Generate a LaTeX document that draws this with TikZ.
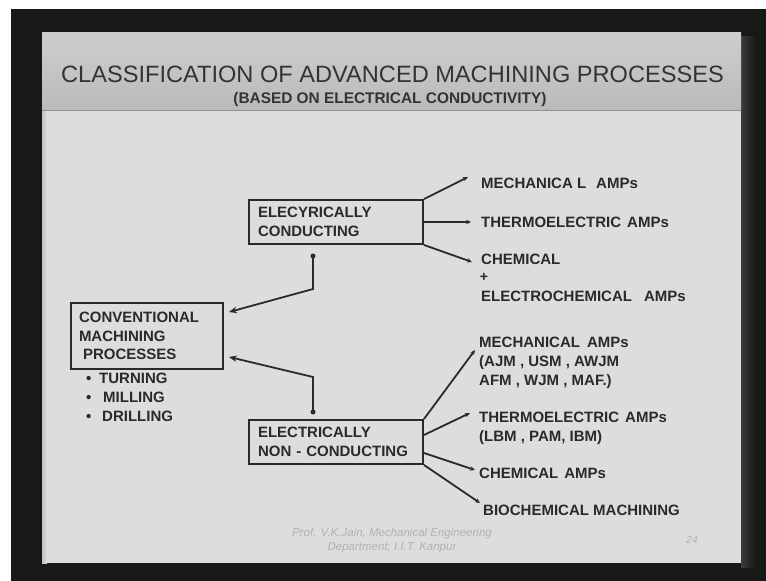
\documentclass[tikz,border=0pt]{standalone}
\usepackage{fontspec}
\setmainfont{Liberation Sans}
\usetikzlibrary{arrows.meta}
\definecolor{ink}{HTML}{2A2A2A}
\definecolor{frame}{HTML}{171917}
\definecolor{shadowc}{HTML}{3A3C3A}
\definecolor{slidebg}{HTML}{DCDEDC}
\definecolor{hdtop}{HTML}{CDCFCD}
\definecolor{hdbot}{HTML}{B9BBB9}
\definecolor{hdline}{HTML}{8E908E}
\definecolor{titleink}{HTML}{333333}
\definecolor{foot}{HTML}{B0B2B0}
\tikzset{
  txt/.style={font=\fontsize{15}{19}\selectfont\bfseries, text=ink, inner sep=0pt, anchor=base west},
  box/.style={draw=ink, line width=1.9pt, align=left, text=ink, font=\fontsize{15}{19}\selectfont\bfseries},
  con/.style={draw=ink, line width=1.8pt},
  bigtip/.style={-{Stealth[length=8pt,width=6.5pt]}},
  smalltip/.style={-{Stealth[length=5pt,width=4.5pt]}},
  dot/.style={circle, fill=ink, inner sep=0pt, minimum size=5pt},
  foottxt/.style={font=\fontsize{11.5}{14}\selectfont\itshape, text=foot, inner sep=0pt, anchor=base},
}
\begin{document}
\begin{tikzpicture}[x=1pt,y=-1pt]
\useasboundingbox (0,0) rectangle (766,581);
\fill[white] (0,0) rectangle (766,581);
\fill[frame] (11,9) rectangle (766,581);
\shade[left color=shadowc, right color=frame] (741,36) rectangle (755,567);
\fill[slidebg] (42,32) rectangle (741,563);
\shade[left color=black!12!slidebg, right color=slidebg] (42,110) rectangle (47,563);
\shade[top color=hdtop, bottom color=hdbot] (42,32) rectangle (741,110);
\draw[hdline, line width=1pt] (42,110) -- (741,110);

% title
\node[font=\fontsize{23.6}{27}\selectfont, text=titleink, inner sep=0pt, anchor=base] (title) at (392.5,82) {CLASSIFICATION OF ADVANCED MACHINING PROCESSES};
\node[font=\fontsize{15.4}{18}\selectfont\bfseries, text=titleink, inner sep=0pt, anchor=base] (subtitle) at (390,103) {(BASED ON ELECTRICAL CONDUCTIVITY)};

% boxes
\node[box, inner xsep=9pt, text width=156pt, minimum height=44pt] (cond) at (336,222) {ELECYRICALLY\\CONDUCTING};
\node[box, inner xsep=8pt, text width=136pt, minimum height=66pt, font=\fontsize{15}{18.5}\selectfont\bfseries] (conv) at (147,336) {CONVENTIONAL\\MACHINING\\\hspace*{4pt}PROCESSES};
\node[box, inner xsep=9pt, text width=156pt, minimum height=44pt] (ncond) at (336,442) {ELECTRICALLY\\NON - CONDUCTING};

% bullets under conventional
\node[txt] (b1) at (85,383.4) {\makebox[7pt]{•}\hspace{7pt}TURNING};
\node[txt] (b2) at (85,402.4) {\makebox[7pt]{•}\hspace{11pt}MILLING};
\node[txt] (b3) at (85,421.4) {\makebox[7pt]{•}\hspace{10pt}DRILLING};

% right texts (conducting)
\node[txt] (cm) at (481,188.4) {MECHANICA L\hspace{10pt}AMPs};
\node[txt] (ct) at (481,227.4) {THERMOELECTRIC\hspace{6pt}AMPs};
\node[txt] (cc) at (481,264.4) {CHEMICAL};
\node[font=\fontsize{14}{16}\selectfont\bfseries, text=ink, inner sep=0pt] (plus) at (484,277) {+};
\node[txt] (ce) at (481,301.4) {ELECTROCHEMICAL\hspace{12pt}AMPs};

% right texts (non-conducting)
\node[txt] (nm) at (479,347.4) {MECHANICAL\hspace{7pt}AMPs};
\node[txt] (nm2) at (479,366.4) {(AJM , USM , AWJM};
\node[txt] (nm3) at (479,385.4) {AFM , WJM , MAF.)};
\node[txt] (nt) at (479,422.4) {THERMOELECTRIC\hspace{6pt}AMPs};
\node[txt] (nt2) at (479,441.4) {(LBM , PAM, IBM)};
\node[txt] (nc) at (479,478.4) {CHEMICAL\hspace{6pt}AMPs};
\node[txt] (nb) at (483,515.4) {BIOCHEMICAL MACHINING};

% left connectors
\node[dot] (d1) at (313,256) {};
\coordinate (k1) at (313,289);
\draw[con, bigtip] (d1.center) -- (k1) -- ([shift={(5,10)}]conv.north east);
\node[dot] (d2) at (313,412) {};
\coordinate (k2) at (313,377);
\draw[con, bigtip] (d2.center) -- (k2) -- ([shift={(5,-13)}]conv.south east);

% right connectors (conducting)
\draw[con, smalltip] (cond.north east) -- ([shift={(-13,-11.4)}]cm.base west);
\draw[con, smalltip] (cond.east) -- ([shift={(-10,-5.4)}]ct.base west);
\draw[con, smalltip] (cond.south east) -- ([shift={(-9,-2.4)}]cc.base west);

% right connectors (non-conducting)
\draw[con, smalltip] (ncond.north east) -- ([shift={(-4,2.6)}]nm.base west);
\draw[con, smalltip] ([shift={(0,-7)}]ncond.east) -- ([shift={(-9,-9.4)}]nt.base west);
\draw[con, smalltip] ([shift={(0,11)}]ncond.east) -- ([shift={(-4,-8.4)}]nc.base west);
\draw[con, smalltip] (ncond.south east) -- ([shift={(-3,-12.4)}]nb.base west);

% footer
\node[foottxt] (f1) at (392,536) {Prof. V.K.Jain, Mechanical Engineering};
\node[foottxt] (f2) at (392,550) {Department, I.I.T. Kanpur};
\node[foottxt, font=\fontsize{10}{12}\selectfont\itshape] (pg) at (692,543) {24};
\end{tikzpicture}
\end{document}
